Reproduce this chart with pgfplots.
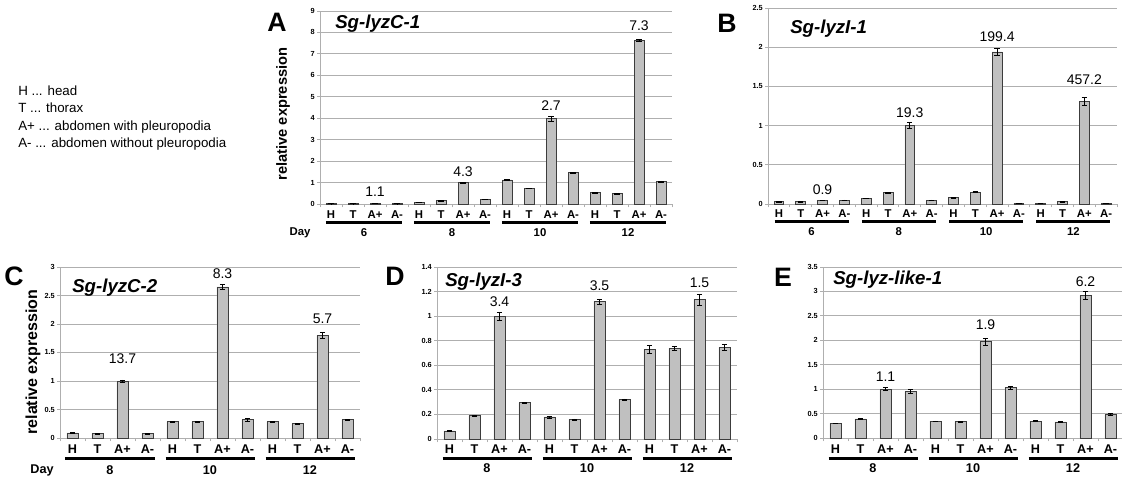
\documentclass[border=0pt]{standalone}
\usepackage{fontspec}
\setmainfont{Liberation Sans}
\usepackage{pgfplots}
\usepackage{pgfplotstable}
\pgfplotsset{compat=1.18}
\definecolor{gridc}{RGB}{175,175,175}
\definecolor{barc}{RGB}{192,192,192}
\definecolor{bard}{RGB}{60,60,60}

\pgfplotstableread{
x y e
0 0.02 0.004
1 0.02 0.004
2 0.025 0.004
3 0.02 0.004
4 0.07 0.006
5 0.15 0.01
6 0.99 0.02
7 0.22 0.01
8 1.12 0.02
9 0.73 0.01
10 3.98 0.13
11 1.47 0.02
12 0.53 0.01
13 0.48 0.01
14 7.62 0.05
15 1.05 0.03
}\dataA
\pgfplotstableread{
x y e
0 0.03 0.003
1 0.03 0.003
2 0.047 0.004
3 0.05 0.003
4 0.072 0.004
5 0.145 0.004
6 1.0 0.04
7 0.05 0.003
8 0.08 0.005
9 0.15 0.006
10 1.94 0.04
11 0.01 0.002
12 0.01 0.002
13 0.03 0.003
14 1.31 0.05
15 0.01 0.002
}\dataB
\pgfplotstableread{
x y e
0 0.09 0.006
1 0.075 0.004
2 1.0 0.02
3 0.075 0.006
4 0.285 0.004
5 0.285 0.004
6 2.65 0.05
7 0.32 0.02
8 0.285 0.01
9 0.25 0.008
10 1.8 0.05
11 0.32 0.006
}\dataC
\pgfplotstableread{
x y e
0 0.066 0.003
1 0.19 0.003
2 1.0 0.035
3 0.295 0.004
4 0.18 0.008
5 0.16 0.004
6 1.12 0.02
7 0.32 0.006
8 0.73 0.03
9 0.737 0.015
10 1.135 0.045
11 0.745 0.025
}\dataD
\pgfplotstableread{
x y e
0 0.3 0.006
1 0.39 0.008
2 1.0 0.03
3 0.95 0.04
4 0.345 0.006
5 0.335 0.01
6 1.97 0.08
7 1.03 0.03
8 0.345 0.01
9 0.33 0.006
10 2.92 0.08
11 0.48 0.02
}\dataE

\newcommand{\vallab}{\fontsize{10.5}{12}\selectfont}
\newcommand{\barplot}[1]{\addplot[fill=barc, draw=bard, line width=0.5pt,
    error bars/.cd, y dir=both, y explicit,
    error bar style={black, line width=0.5pt},
    error mark options={rotate=90, mark size=2pt, black, line width=0.5pt}]
    table[x=x, y=y, y error=e]{#1};}
% start index, day label, line shift, day baseline shift, half-extension, font
\newcommand{\grp}[6]{%
  \draw[line width=2.3pt] ([yshift=#3]axis cs:#1-#5,0) -- ([yshift=#3]axis cs:#1+3+#5,0);
  \node[anchor=base, font=#6, inner sep=0pt] at ([yshift=#4]axis cs:#1+1.5,0) {#2};}

\pgfplotsset{
  panel/.style={
    ybar, bar width=0.45, scale only axis, anchor=south west, clip=false,
    ymin=0,
    axis x line*=bottom, axis y line*=left,
    axis line style={gridc, line width=0.6pt},
    ymajorgrids, grid style={gridc, line width=0.6pt},
    tick align=outside, major tick length=2.2pt, minor tick length=2.5pt,
    tick style={gridc, line width=0.6pt},
    major x tick style={draw=none},
    yticklabel style={font=\fontsize{5.5}{6}\selectfont\bfseries, inner sep=1.5pt},
    /pgf/number format/assume math mode=true,
  },
  fourday/.style={xmin=-0.5, xmax=15.5, xtick={0,...,15},
    xticklabels={H,T,A+,A-,H,T,A+,A-,H,T,A+,A-,H,T,A+,A-},
    minor xtick={-0.5,0.5,...,15.5},
    xticklabel style={anchor=base, font=\fontsize{8.5}{9}\selectfont\bfseries}},
  threeday/.style={xmin=-0.5, xmax=11.5, xtick={0,...,11},
    xticklabels={H,T,A+,A-,H,T,A+,A-,H,T,A+,A-},
    minor xtick={-0.5,0.5,...,11.5},
    xticklabel style={anchor=base, font=\fontsize{9.5}{10}\selectfont\bfseries}},
}

\begin{document}
\begin{tikzpicture}
\useasboundingbox (0,0) rectangle (841.5pt,359.25pt);

% ---------- A ----------
\begin{axis}[panel, fourday, at={(240pt,206.25pt)}, width=264pt, height=144.75pt,
  ymax=9, ytick={0,1,...,9}, xticklabel style={yshift=-8.6pt}]
\barplot{\dataA}
\node[font=\vallab] at (axis cs:2,0.56) {1.1};
\node[font=\vallab] at (axis cs:6,1.49) {4.3};
\node[font=\vallab] at (axis cs:10,4.57) {2.7};
\node[font=\vallab] at (axis cs:14,8.3) {7.3};
\grp{0}{6}{-14pt}{-24.75pt}{0.23}{\fontsize{8.5}{9}\selectfont\bfseries}
\grp{4}{8}{-14pt}{-24.75pt}{0.23}{\fontsize{8.5}{9}\selectfont\bfseries}
\grp{8}{10}{-14pt}{-24.75pt}{0.23}{\fontsize{8.5}{9}\selectfont\bfseries}
\grp{12}{12}{-14pt}{-24.75pt}{0.23}{\fontsize{8.5}{9}\selectfont\bfseries}
\end{axis}

% ---------- B ----------
\begin{axis}[panel, fourday, at={(576pt,206.25pt)}, width=261.75pt, height=147pt,
  ymax=2.5, ytick={0,0.5,...,2.5}, xticklabel style={yshift=-8.2pt}]
\barplot{\dataB}
\node[font=\vallab] at (axis cs:2,0.18) {0.9};
\node[font=\vallab] at (axis cs:6,1.17) {19.3};
\node[font=\vallab] at (axis cs:10,2.14) {199.4};
\node[font=\vallab] at (axis cs:14,1.58) {457.2};
\grp{0}{6}{-13.2pt}{-24pt}{0.2}{\fontsize{8.5}{9}\selectfont\bfseries}
\grp{4}{8}{-13.2pt}{-24pt}{0.2}{\fontsize{8.5}{9}\selectfont\bfseries}
\grp{8}{10}{-13.2pt}{-24pt}{0.2}{\fontsize{8.5}{9}\selectfont\bfseries}
\grp{12}{12}{-13.2pt}{-24pt}{0.2}{\fontsize{8.5}{9}\selectfont\bfseries}
\end{axis}

% ---------- C ----------
\begin{axis}[panel, threeday, at={(45pt,30.75pt)}, width=225pt, height=128.25pt,
  ymax=3, ytick={0,0.5,...,3}, xticklabel style={yshift=-9.2pt}]
\barplot{\dataC}
\node[font=\vallab] at (axis cs:2,1.40) {13.7};
\node[font=\vallab] at (axis cs:6,2.89) {8.3};
\node[font=\vallab] at (axis cs:10,2.10) {5.7};
\grp{0}{8}{-15.4pt}{-27.4pt}{0.28}{\fontsize{9.5}{10}\selectfont\bfseries}
\grp{4}{10}{-15.4pt}{-27.4pt}{0.28}{\fontsize{9.5}{10}\selectfont\bfseries}
\grp{8}{12}{-15.4pt}{-27.4pt}{0.28}{\fontsize{9.5}{10}\selectfont\bfseries}
\end{axis}

% ---------- D ----------
\begin{axis}[panel, threeday, at={(327.75pt,30pt)}, width=225pt, height=129pt,
  ymax=1.4, ytick={0,0.2,...,1.4}, xticklabel style={yshift=-8.6pt}]
\barplot{\dataD}
\node[font=\vallab] at (axis cs:2,1.115) {3.4};
\node[font=\vallab] at (axis cs:6,1.25) {3.5};
\node[font=\vallab] at (axis cs:10,1.27) {1.5};
\grp{0}{8}{-14.6pt}{-25.1pt}{0.28}{\fontsize{9.5}{10}\selectfont\bfseries}
\grp{4}{10}{-14.6pt}{-25.1pt}{0.28}{\fontsize{9.5}{10}\selectfont\bfseries}
\grp{8}{12}{-14.6pt}{-25.1pt}{0.28}{\fontsize{9.5}{10}\selectfont\bfseries}
\end{axis}

% ---------- E ----------
\begin{axis}[panel, threeday, at={(617.25pt,30.75pt)}, width=225pt, height=128.25pt,
  ymax=3.5, ytick={0,0.5,...,3.5}, xticklabel style={yshift=-9.3pt}]
\barplot{\dataE}
\node[font=\vallab] at (axis cs:2,1.25) {1.1};
\node[font=\vallab] at (axis cs:6,2.31) {1.9};
\node[font=\vallab] at (axis cs:10,3.19) {6.2};
\grp{0}{8}{-15.4pt}{-25.9pt}{0.28}{\fontsize{9.5}{10}\selectfont\bfseries}
\grp{4}{10}{-15.4pt}{-25.9pt}{0.28}{\fontsize{9.5}{10}\selectfont\bfseries}
\grp{8}{12}{-15.4pt}{-25.9pt}{0.28}{\fontsize{9.5}{10}\selectfont\bfseries}
\end{axis}

% ---------- texts ----------
\begin{scope}[every node/.style={inner sep=0pt}]
\node[anchor=base west, font=\fontsize{10}{12}\selectfont] at (13.5pt,287.25pt) {H ... head};
\node[anchor=base west, font=\fontsize{10}{12}\selectfont] at (13.5pt,274.5pt) {T ... thorax};
\node[anchor=base west, font=\fontsize{10}{12}\selectfont] at (13.5pt,261pt) {A+ ... abdomen with pleuropodia};
\node[anchor=base west, font=\fontsize{10}{12}\selectfont] at (13.5pt,248.25pt) {A- ... abdomen without pleuropodia};

\node[font=\fontsize{20}{20}\selectfont\bfseries] at (207.75pt,342.75pt) {A};
\node[font=\fontsize{20}{20}\selectfont\bfseries] at (545.25pt,342pt) {B};
\node[font=\fontsize{20}{20}\selectfont\bfseries] at (10.5pt,152.25pt) {C};
\node[font=\fontsize{20}{20}\selectfont\bfseries] at (296.25pt,152.25pt) {D};
\node[font=\fontsize{20}{20}\selectfont\bfseries] at (587.25pt,151.5pt) {E};

\node[anchor=west, font=\fontsize{14}{16}\selectfont\bfseries\itshape] at (251.25pt,341.25pt) {Sg-lyzC-1};
\node[anchor=west, font=\fontsize{14}{16}\selectfont\bfseries\itshape] at (592.5pt,337.5pt) {Sg-lyzI-1};
\node[anchor=west, font=\fontsize{14}{16}\selectfont\bfseries\itshape] at (54pt,143.25pt) {Sg-lyzC-2};
\node[anchor=west, font=\fontsize{14}{16}\selectfont\bfseries\itshape] at (333.75pt,147.75pt) {Sg-lyzI-3};
\node[anchor=west, font=\fontsize{14}{16}\selectfont\bfseries\itshape] at (624.75pt,149.25pt) {Sg-lyz-like-1};

\node[rotate=90, font=\fontsize{11}{12}\selectfont\bfseries] at (212.25pt,273.75pt) {relative expression};
\node[rotate=90, font=\fontsize{12}{13}\selectfont\bfseries] at (24.75pt,87.75pt) {relative expression};

\node[font=\fontsize{8.5}{9}\selectfont\bfseries] at (225pt,184.5pt) {Day};
\node[font=\fontsize{9.5}{10}\selectfont\bfseries] at (31.5pt,6.75pt) {Day};
\end{scope}
\end{tikzpicture}
\end{document}
